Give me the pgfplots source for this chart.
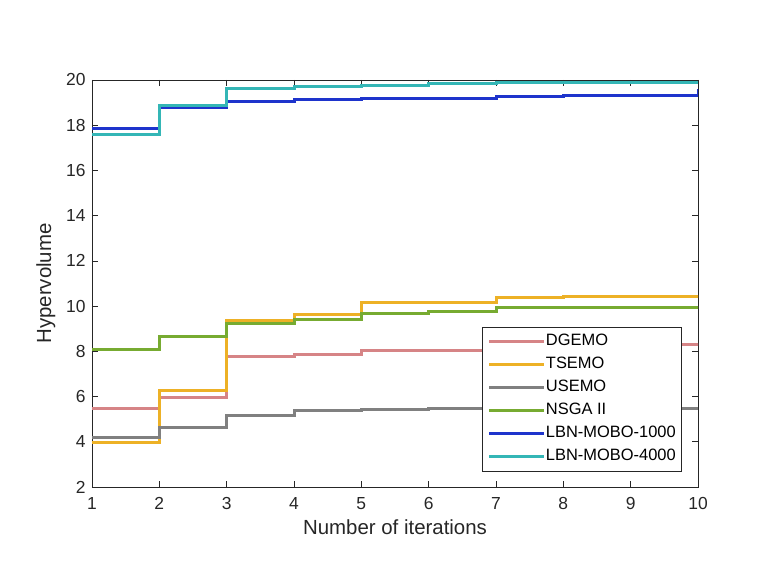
\documentclass[border=0pt]{standalone}
\usepackage{pgfplots}
\pgfplotsset{compat=1.18}
\usepackage{fontspec}
\setmainfont{Liberation Sans}
\definecolor{cDG}{RGB}{214,132,134}
\definecolor{cTS}{RGB}{237,177,38}
\definecolor{cUS}{RGB}{128,128,128}
\definecolor{cNS}{RGB}{119,171,49}
\definecolor{cL1}{RGB}{30,52,204}
\definecolor{cL4}{RGB}{52,182,182}
\definecolor{axc}{RGB}{38,38,38}
\begin{document}
\begin{tikzpicture}
\useasboundingbox (-92bp,-99bp) rectangle (669bp,487bp);
\begin{axis}[
  at={(0,0)}, anchor=south west,
  scale only axis, width=606bp, height=407bp,
  xmin=1, xmax=10, ymin=2, ymax=20,
  xtick={1,...,10}, ytick={2,4,...,20},
  tick align=inside, major tick length=6bp,
  axis line style={axc, line width=0.6bp},
  every tick/.style={axc, line width=0.6bp},
  tick label style={font=\fontsize{17.5}{19}\selectfont, text=axc},
  xticklabel style={yshift=-7bp},
  yticklabel style={xshift=-3bp},
  /pgf/number format/assume math mode=true,
  xlabel={Number of iterations}, ylabel={Hypervolume},
  label style={font=\fontsize{20.5}{22}\selectfont, text=axc},
  xlabel style={yshift=-3bp},
  ylabel style={yshift=4bp},
  const plot,
  every axis plot/.append style={line width=3bp},
  legend cell align=left,
  legend image code/.code={\draw[#1] (0bp,0bp) -- (55bp,0bp);},
  legend style={at={(0.9736,0.393)}, anchor=north east,
    draw=axc, line width=0.6bp, inner xsep=6bp, inner ysep=6bp,
    font=\fontsize{16.5}{18}\selectfont,
    nodes={inner sep=0pt, text height=12bp, text depth=4bp},
    row sep=7.1bp,
    /tikz/every even column/.append style={column sep=5bp}},
]
\addplot[cDG] coordinates {(1,5.46) (2,5.95) (3,7.75) (4,7.87) (5,8.02) (6,8.02) (7,8.06) (8,8.15) (9,8.30) (10,8.37)};
\addlegendentry{DGEMO}
\addplot[cTS] coordinates {(1,3.97) (2,6.25) (3,9.36) (4,9.62) (5,10.14) (6,10.17) (7,10.37) (8,10.42) (9,10.42) (10,10.40)};
\addlegendentry{TSEMO}
\addplot[cUS] coordinates {(1,4.19) (2,4.61) (3,5.16) (4,5.38) (5,5.41) (6,5.46) (7,5.46) (8,5.46) (9,5.46) (10,5.46)};
\addlegendentry{USEMO}
\addplot[cNS] coordinates {(1,8.10) (2,8.65) (3,9.23) (4,9.41) (5,9.67) (6,9.78) (7,9.92) (8,9.95) (9,9.96) (10,10.02)};
\addlegendentry{NSGA II}
\addplot[cL1] coordinates {(1,17.84) (2,18.77) (3,19.07) (4,19.13) (5,19.17) (6,19.20) (7,19.26) (8,19.30) (9,19.33) (10,19.59)};
\addlegendentry{LBN-MOBO-1000}
\addplot[cL4] coordinates {(1,17.60) (2,18.86) (3,19.63) (4,19.70) (5,19.76) (6,19.85) (7,19.88) (8,19.88) (9,19.88) (10,19.88)};
\addlegendentry{LBN-MOBO-4000}
\end{axis}
\end{tikzpicture}
\end{document}
